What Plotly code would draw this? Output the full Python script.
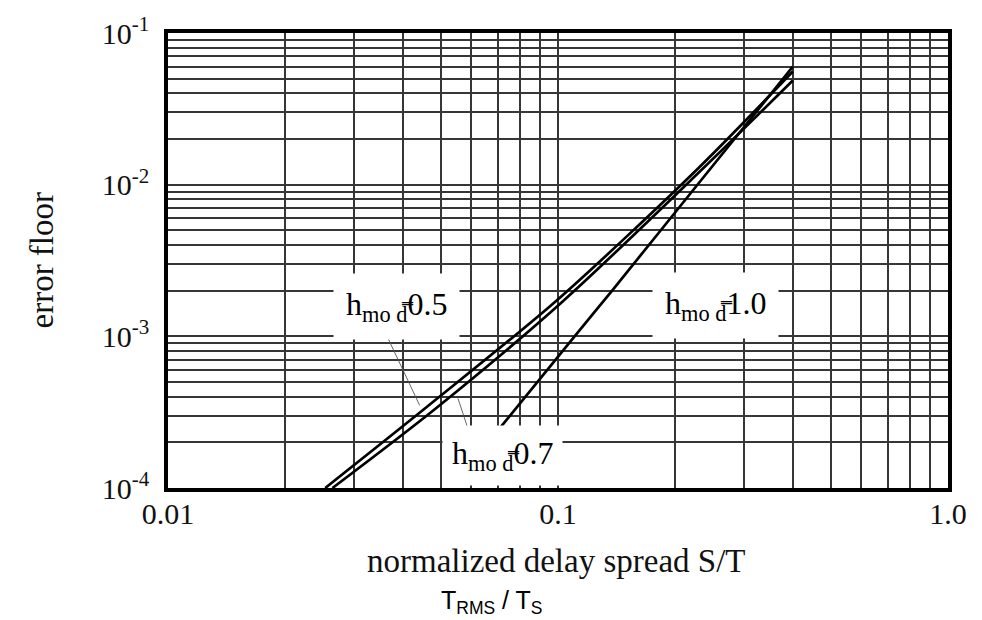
import math
import plotly.graph_objects as go

# ---- data ----
h05_x = [0.0253, 0.0464, 0.0994, 0.2286, 0.40]
h05_y = [1.0e-4, 3.47e-4, 1.73e-3, 1.28e-2, 5.57e-2]

h07_x = [0.0264, 0.0484, 0.1023, 0.231, 0.40]
h07_y = [1.0e-4, 3.32e-4, 1.68e-3, 1.22e-2, 4.86e-2]

h10_x = [0.0711, 0.1074, 0.138, 0.2286, 0.40]
h10_y = [2.5e-4, 9.2e-4, 2.02e-3, 1.01e-2, 6.0e-2]

# leader lines from labels to curves
lead05_x = [0.0360, 0.0442]
lead05_y = [1.07e-3, 3.5e-4]
lead07_x = [0.0613, 0.0554]
lead07_y = [1.77e-4, 3.9e-4]

x_major = [0.01, 0.1, 1.0]
x_major_text = ["0.01", "0.1", "1.0"]
y_major = [1e-4, 1e-3, 1e-2, 1e-1]
y_major_text = ["10<sup>-4</sup>", "10<sup>-3</sup>", "10<sup>-2</sup>", "10<sup>-1</sup>"]

labels = ["h<sub>mo d̿</sub>0.5", "h<sub>mo d̿</sub>0.7", "h<sub>mo d̿</sub>1.0"]

# ---- minor grid values (2..9 per decade) ----
def minor_ticks(lo_exp, hi_exp):
    vals = []
    for e in range(lo_exp, hi_exp):
        for m in range(2, 10):
            vals.append(m * 10 ** e)
    return vals

W, H = 982, 620
L, R, T, B = 168, 34, 28, 132
PW, PH = W - L - R, H - T - B

def px(x):
    return (x - L) / PW

def py(y):
    return (H - B - y) / PH

serif = "Liberation Serif, Times New Roman, serif"
sans = "Liberation Sans, Arial, sans-serif"
GRID = "#363636"

fig = go.Figure()
for xs, ys in [(h05_x, h05_y), (h07_x, h07_y), (h10_x, h10_y)]:
    fig.add_trace(go.Scatter(x=xs, y=ys, mode="lines",
                             line=dict(color="black", width=2.7, shape="spline", smoothing=0.8),
                             showlegend=False, hoverinfo="skip"))

annotations = []
box_pos = [(396, 304), (502, 455), (715, 303)]
pads = [12, 9, 12]
for txt, (ax_, ay_), bp in zip(labels, box_pos, pads):
    annotations.append(dict(
        text=txt, x=px(ax_), y=py(ay_), xref="paper", yref="paper",
        showarrow=False, xanchor="center", yanchor="middle",
        font=dict(family=serif, size=32, color="black"),
        bgcolor="white", borderpad=bp,
    ))

for xs, ys in [(lead05_x, lead05_y), (lead07_x, lead07_y)]:
    fig.add_trace(go.Scatter(x=xs, y=ys, mode="lines",
                             line=dict(color="#555", width=0.9),
                             showlegend=False, hoverinfo="skip"))

annotations.append(dict(text="normalized delay spread S/T", x=px(556), y=py(562),
                        xref="paper", yref="paper", showarrow=False,
                        xanchor="center", yanchor="middle",
                        font=dict(family=serif, size=33, color="#111")))
annotations.append(dict(text="T<sub>RMS</sub> / T<sub>S</sub>", x=px(492), y=py(603),
                        xref="paper", yref="paper", showarrow=False,
                        xanchor="center", yanchor="middle",
                        font=dict(family=sans, size=25, color="black")))
annotations.append(dict(text="error floor", x=px(41), y=py(258),
                        xref="paper", yref="paper", showarrow=False, textangle=-90,
                        xanchor="center", yanchor="middle",
                        font=dict(family=serif, size=33, color="#111")))

fig.update_layout(
    width=W, height=H,
    margin=dict(l=L, r=R, t=T, b=B, pad=0),
    paper_bgcolor="white", plot_bgcolor="white",
    annotations=annotations,
    showlegend=False,
)
fig.update_xaxes(type="log", range=[-2, 0], tickmode="array", tickvals=x_major,
                 ticktext=x_major_text,
                 showgrid=True, gridcolor=GRID, gridwidth=1.8,
                 minor=dict(tickmode="array", tickvals=minor_ticks(-2, 0), showgrid=True,
                            gridcolor=GRID, gridwidth=1.8, ticks=""),
                 showline=True, linecolor="black", linewidth=3.5, mirror=True,
                 ticks="", ticklabelstandoff=-4, zeroline=False,
                 tickfont=dict(family=serif, size=30, color="#111"))
fig.update_yaxes(type="log", range=[-4, -1], tickmode="array", tickvals=y_major,
                 ticktext=y_major_text,
                 showgrid=True, gridcolor=GRID, gridwidth=1.8,
                 minor=dict(tickmode="array", tickvals=minor_ticks(-4, -1), showgrid=True,
                            gridcolor=GRID, gridwidth=1.8, ticks=""),
                 showline=True, linecolor="black", linewidth=3.5, mirror=True,
                 ticks="", ticklabelstandoff=9, zeroline=False,
                 tickfont=dict(family=serif, size=30, color="#111"))

fig.write_html("out.html")
